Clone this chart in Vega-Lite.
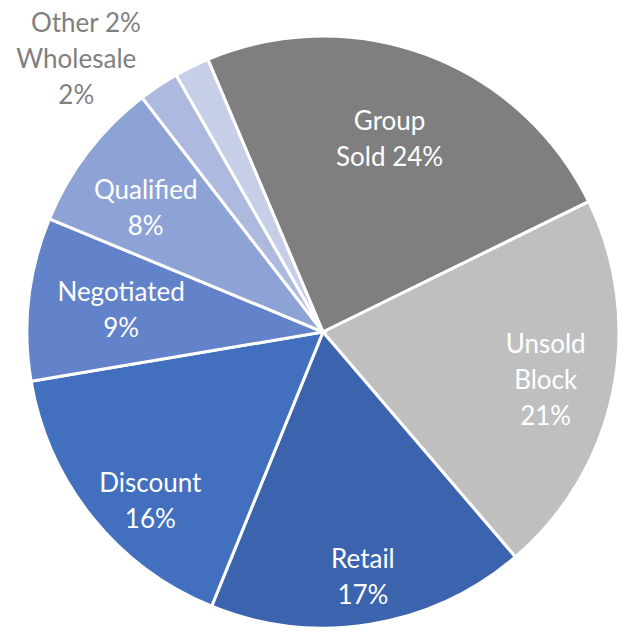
{
  "$schema": "https://vega.github.io/schema/vega-lite/v6.json",
  "width": 612,
  "height": 604,
  "autosize": {"type": "none"},
  "padding": {"left": 17, "top": 30, "right": 0, "bottom": 0},
  "background": "white",
  "config": {"view": {"stroke": null}},
  "data": {
    "values": [
      {"cat": "Group Sold", "value": 24.1, "order": 1, "label": "Group\nSold 24%"},
      {"cat": "Unsold Block", "value": 21.0, "order": 2, "label": "Unsold\nBlock\n21%"},
      {"cat": "Retail", "value": 17.4, "order": 3, "label": "Retail\n17%"},
      {"cat": "Discount", "value": 16.2, "order": 4, "label": "Discount\n16%"},
      {"cat": "Negotiated", "value": 8.9, "order": 5, "label": "Negotiated\n9%"},
      {"cat": "Qualified", "value": 8.3, "order": 6, "label": "Qualified\n8%"},
      {"cat": "Wholesale", "value": 2.2, "order": 7, "label": "Wholesale\n2%"},
      {"cat": "Other", "value": 1.9, "order": 8, "label": "Other 2%"}
    ]
  },
  "encoding": {
    "theta": {"field": "value", "type": "quantitative", "stack": true, "scale": {"range": [-0.3997, 5.8835]}},
    "order": {"field": "order", "type": "quantitative"}
  },
  "layer": [
    {
      "mark": {"type": "arc", "outerRadius": 296, "stroke": "white", "strokeWidth": 3},
      "encoding": {
        "color": {
          "field": "cat", "type": "nominal", "legend": null,
          "scale": {
            "domain": ["Group Sold", "Unsold Block", "Retail", "Discount", "Negotiated", "Qualified", "Wholesale", "Other"],
            "range": ["#7f7f7f", "#bfbfbf", "#3c63ad", "#4270be", "#6282c9", "#8ea3d5", "#adb9de", "#c7cfe8"]
          }
        }
      }
    },
    {
      "mark": {"type": "text", "radius": 203, "thetaOffset": -0.023, "dy": -18, "font": "Lato", "fontSize": 26, "lineHeight": 36, "lineBreak": "\n", "color": "white", "baseline": "middle", "align": "center"},
      "encoding": {"text": {"condition": {"test": "datum.cat === 'Group Sold'", "field": "label"}, "value": ""}}
    },
    {
      "mark": {"type": "text", "radius": 228, "thetaOffset": 0.013, "dy": -36, "font": "Lato", "fontSize": 26, "lineHeight": 36, "lineBreak": "\n", "color": "white", "baseline": "middle", "align": "center"},
      "encoding": {"text": {"condition": {"test": "datum.cat === 'Unsold Block'", "field": "label"}, "value": ""}}
    },
    {
      "mark": {"type": "text", "radius": 249, "thetaOffset": 0, "dy": -18, "font": "Lato", "fontSize": 26, "lineHeight": 36, "lineBreak": "\n", "color": "white", "baseline": "middle", "align": "center"},
      "encoding": {"text": {"condition": {"test": "datum.cat === 'Retail'", "field": "label"}, "value": ""}}
    },
    {
      "mark": {"type": "text", "radius": 242, "thetaOffset": -0.1, "dy": -18, "font": "Lato", "fontSize": 26, "lineHeight": 36, "lineBreak": "\n", "color": "white", "baseline": "middle", "align": "center"},
      "encoding": {"text": {"condition": {"test": "datum.cat === 'Discount'", "field": "label"}, "value": ""}}
    },
    {
      "mark": {"type": "text", "radius": 203, "thetaOffset": -0.009, "dy": -18, "font": "Lato", "fontSize": 26, "lineHeight": 36, "lineBreak": "\n", "color": "white", "baseline": "middle", "align": "center"},
      "encoding": {"text": {"condition": {"test": "datum.cat === 'Negotiated'", "field": "label"}, "value": ""}}
    },
    {
      "mark": {"type": "text", "radius": 216, "thetaOffset": -0.045, "dy": -18, "font": "Lato", "fontSize": 26, "lineHeight": 36, "lineBreak": "\n", "color": "white", "baseline": "middle", "align": "center"},
      "encoding": {"text": {"condition": {"test": "datum.cat === 'Qualified'", "field": "label"}, "value": ""}}
    },
    {
      "mark": {"type": "text", "radius": 354, "thetaOffset": -0.183, "dy": -18, "font": "Lato", "fontSize": 26, "lineHeight": 36, "lineBreak": "\n", "color": "#7f7f7f", "baseline": "middle", "align": "center"},
      "encoding": {"text": {"condition": {"test": "datum.cat === 'Wholesale'", "field": "label"}, "value": ""}}
    },
    {
      "mark": {"type": "text", "radius": 389, "thetaOffset": -0.196, "font": "Lato", "fontSize": 26, "lineHeight": 36, "lineBreak": "\n", "color": "#7f7f7f", "baseline": "middle", "align": "center"},
      "encoding": {"text": {"condition": {"test": "datum.cat === 'Other'", "field": "label"}, "value": ""}}
    }
  ]
}
